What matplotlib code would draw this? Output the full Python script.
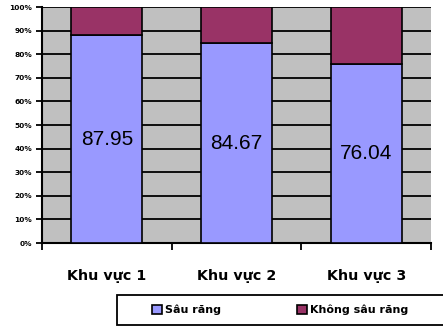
import matplotlib
matplotlib.use("Agg")
import matplotlib.pyplot as plt
from matplotlib.patches import Patch, Rectangle
import numpy as np

categories = ["Khu vực 1", "Khu vực 2", "Khu vực 3"]
sau_rang = [87.95, 84.67, 76.04]
khong_sau_rang = [12.05, 15.33, 23.96]
series_names = ["Sâu răng", "Không sâu răng"]
ytick_labels = ["0%", "10%", "20%", "30%", "40%", "50%", "60%", "70%", "80%", "90%", "100%"]

blue = "#9999FF"
red = "#993366"

fig = plt.figure(figsize=(4.43, 3.27), dpi=100)
ax = fig.add_axes([42/443, (327-243)/327, 389/443, 236/327])
ax.set_facecolor("#C0C0C0")

x = np.arange(len(categories))
w = 0.55
ax.bar(x, sau_rang, w, color=blue, edgecolor="black", linewidth=1.2, zorder=3)
ax.bar(x, khong_sau_rang, w, bottom=sau_rang, color=red, edgecolor="black", linewidth=1.2, zorder=3)

for xi, v in zip(x, sau_rang):
    ax.text(xi, v / 2, f"{v:.2f}", ha="center", va="center", fontsize=15,
            family="Liberation Sans", zorder=4)

ax.set_xlim(-0.5, len(categories) - 0.5)
ax.set_ylim(0, 100)
ax.set_yticks(np.arange(0, 101, 10))
ax.set_yticklabels(ytick_labels, fontsize=5.3, fontweight="bold", family="DejaVu Sans")
ax.yaxis.grid(True, color="black", linewidth=1.3, zorder=1)
ax.set_axisbelow(True)

ax.set_xticks(np.arange(-0.5, len(categories), 1.0))
ax.set_xticklabels([])
ax.set_xticks(x, minor=True)
ax.set_xticklabels(categories, minor=True, fontsize=10.3, fontweight="bold", family="DejaVu Sans")
ax.tick_params(axis="x", which="minor", length=0, pad=19)
ax.tick_params(axis="x", which="major", length=5, width=1.3, color="black")
ax.tick_params(axis="y", length=4, width=1.3, pad=3)

for s in ["top", "right"]:
    ax.spines[s].set_visible(False)
ax.spines["left"].set_linewidth(1.5)
ax.spines["bottom"].set_linewidth(1.5)

# legend frame
fig.add_artist(Rectangle((117/443, 2/327), 330/443, 30/327, transform=fig.transFigure,
                         facecolor="white", edgecolor="black", linewidth=1.3))
handles = [Patch(facecolor=blue, edgecolor="black", linewidth=1.2),
           Patch(facecolor=red, edgecolor="black", linewidth=1.2)]
leg = fig.legend(handles, series_names, loc="center left", ncol=2,
                 bbox_to_anchor=(152/443, 17/327),
                 prop={"family": "DejaVu Sans", "weight": "bold", "size": 8},
                 frameon=False, handlelength=0.9, handleheight=0.9, handletextpad=0.3,
                 columnspacing=6.8, borderaxespad=0, borderpad=0)

fig.savefig("out.png", dpi=100)
